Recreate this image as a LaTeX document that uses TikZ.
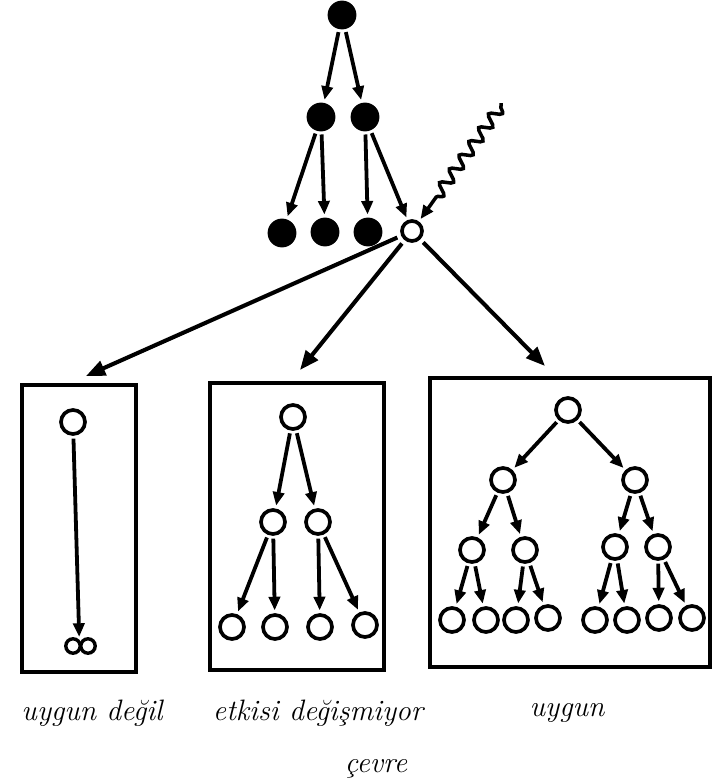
\documentclass[tikz,border=0pt]{standalone}
\usetikzlibrary{arrows.meta,decorations.pathmorphing}

\begin{document}
\begin{tikzpicture}[x=0.025cm,y=-0.025cm]

  \tikzstyle{cell} = [circle, fill, inner sep=0, minimum size=0.72cm]
  \tikzstyle{mutant} = [circle, draw, line width=2.6pt, inner sep=0, minimum size=0.6cm]
  \tikzstyle{dot} = [circle, draw, line width=2.4pt, inner sep=0, minimum size=0.36cm]
  \tikzstyle{arr} = [-{Triangle[length=0.34cm,width=0.28cm]}, line width=2.7pt, shorten <=2pt, shorten >=2pt]
  \tikzstyle{bigarr} = [-{Triangle[length=0.48cm,width=0.38cm]}, line width=2.9pt, shorten <=3pt]
  \tikzstyle{panel} = [line width=3pt]
  \tikzstyle{lbl} = [anchor=base, font=\fontsize{21}{25}\selectfont\itshape]

  \useasboundingbox (0,0) rectangle (721,781);

  % parent line
  \node[cell] (R) at (342,15) {};
  \node[cell] (A1) at (321,117) {};
  \node[cell] (A2) at (365,117) {};
  \node[cell] (B1) at (282,233) {};
  \node[cell] (B2) at (325,232) {};
  \node[cell] (B3) at (368,232) {};
  \node[mutant, minimum size=0.5cm] (M) at (412,231) {};
  \coordinate (W) at (501,106);

  \draw[arr] (R) -- (A1);
  \draw[arr] (R) -- (A2);
  \draw[arr] (A1) -- (B1);
  \draw[arr] (A1) -- (B2);
  \draw[arr] (A2) -- (B3);
  \draw[arr] (A2) -- (M);
  \draw[arr, line width=2.5pt, decorate, decoration={snake, amplitude=4pt, segment length=12pt, post length=0.55cm}] (W) -- (M);

  % three environments
  \draw[panel] (22,385) rectangle (136,672);
  \draw[panel] (210,383) rectangle (384,670);
  \draw[panel] (430,378) rectangle (710,667);

  \coordinate (UD) at (86,376);
  \coordinate (ED) at (300,370);
  \coordinate (UY) at (545,366);

  \draw[bigarr] (M) -- (UD);
  \draw[bigarr] (M) -- (ED);
  \draw[bigarr] (M) -- (UY);

  % uygun degil
  \node[mutant] (P) at (73,422) {};
  \node[dot] (S1) at (73,646) {};
  \node[dot] (S2) at (88,646) {};
  \draw[arr] (P) -- (S1.north east);

  % etkisi degismiyor
  \node[mutant] (E) at (293,417) {};
  \node[mutant] (E1) at (273,522) {};
  \node[mutant] (E2) at (318,522) {};
  \node[mutant] (E11) at (232,627) {};
  \node[mutant] (E12) at (275,627) {};
  \node[mutant] (E21) at (320,627) {};
  \node[mutant] (E22) at (365,625) {};

  \draw[arr] (E) -- (E1);
  \draw[arr] (E) -- (E2);
  \draw[arr] (E1) -- (E11);
  \draw[arr] (E1) -- (E12);
  \draw[arr] (E2) -- (E21);
  \draw[arr] (E2) -- (E22);

  % uygun
  \node[mutant] (U) at (568,410) {};
  \node[mutant] (U1) at (503,480) {};
  \node[mutant] (U2) at (635,480) {};
  \node[mutant] (U11) at (472,550) {};
  \node[mutant] (U12) at (525,550) {};
  \node[mutant] (U21) at (615,547) {};
  \node[mutant] (U22) at (658,547) {};
  \node[mutant] (U111) at (452,620) {};
  \node[mutant] (U112) at (486,620) {};
  \node[mutant] (U121) at (516,620) {};
  \node[mutant] (U122) at (548,618) {};
  \node[mutant] (U211) at (595,620) {};
  \node[mutant] (U212) at (627,620) {};
  \node[mutant] (U221) at (659,618) {};
  \node[mutant] (U222) at (692,618) {};

  \draw[arr] (U) -- (U1);
  \draw[arr] (U) -- (U2);
  \draw[arr] (U1) -- (U11);
  \draw[arr] (U1) -- (U12);
  \draw[arr] (U2) -- (U21);
  \draw[arr] (U2) -- (U22);
  \draw[arr] (U11) -- (U111);
  \draw[arr] (U11) -- (U112);
  \draw[arr] (U12) -- (U121);
  \draw[arr] (U12) -- (U122);
  \draw[arr] (U21) -- (U211);
  \draw[arr] (U21) -- (U212);
  \draw[arr] (U22) -- (U221);
  \draw[arr] (U22) -- (U222);

  \node[lbl] (L1) at (92,720) {uygun değil};
  \node[lbl] (L2) at (318,720) {etkisi değişmiyor};
  \node[lbl] (L3) at (567,716) {uygun};
  \node[lbl] (L4) at (376,772) {çevre};

\end{tikzpicture}
\end{document}
